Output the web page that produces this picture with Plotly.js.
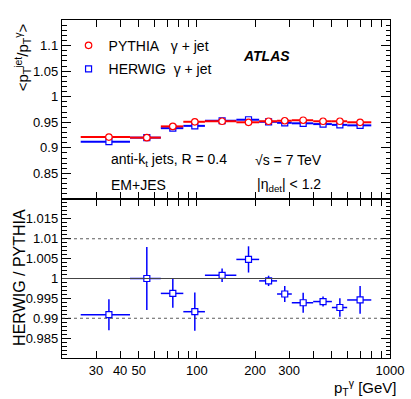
<!DOCTYPE html>
<html>
<head>
<meta charset="utf-8">
<script src="https://cdn.plot.ly/plotly-3.0.1.min.js"></script>
<style>
  html, body { margin: 0; padding: 0; background: #fff; }
  #chart { width: 411px; height: 399px; }
</style>
</head>
<body>
<div id="chart"></div>
<script>
// photon pT bins (GeV) and bin centres
var binLow = [25, 45, 65, 85, 110, 160, 210, 260, 310, 400, 500, 600];
var binHigh = [45, 65, 85, 110, 160, 210, 260, 310, 400, 500, 600, 800];
var ptCenter = [35, 55, 75, 97.5, 135, 185, 235, 285, 355, 450, 550, 700];

// <pT jet / pT gamma> per generator
var pythia = [0.921, 0.920, 0.942, 0.951, 0.952, 0.950, 0.952, 0.953, 0.954, 0.952, 0.952, 0.950];
var herwig = [0.912, 0.920, 0.9385, 0.943, 0.953, 0.955, 0.951, 0.949, 0.948, 0.9465, 0.945, 0.944];

// HERWIG / PYTHIA ratio and its error
var ratio = [0.9909, 1.0000, 0.99625, 0.99165, 1.0008, 1.0048, 0.9994, 0.9961, 0.9939, 0.9942, 0.9927, 0.9946];
var ratioErr = [0.0039, 0.0079, 0.0036, 0.0048, 0.0017, 0.0033, 0.0013, 0.0020, 0.0025, 0.00125, 0.0023, 0.0035];

var xTicks = [30, 40, 50, 100, 200, 300, 1000];
var xTickText = ['30', '40', '50', '100', '200', '300', '1000'];
var xMinorTicks = [20, 60, 70, 80, 90, 400, 500, 600, 700, 800, 900];
var topTicks = [0.85, 0.9, 0.95, 1, 1.05, 1.1];
var ratioTicks = [0.985, 0.99, 0.995, 1, 1.005, 1.01, 1.015];
var ratioTickText = ['0.985', '0.99', '0.995', '1', '1.005', '1.01', '1.015'];

var errPlus = ptCenter.map(function (c, i) { return binHigh[i] - c; });
var errMinus = ptCenter.map(function (c, i) { return c - binLow[i]; });

var RED = 'rgb(255,0,0)';
var BLUE = 'rgb(0,0,255)';
var FONT = 'Liberation Sans, Arial, sans-serif';

var herwigTrace = {
    x: ptCenter, y: herwig,
    xaxis: 'x2', yaxis: 'y2',
    mode: 'markers', type: 'scatter',
    name: 'HERWIG\u00a0\u00a0γ + jet',
    legend: 'legend2',
    marker: {symbol: 'square', size: 6, color: 'white', line: {color: BLUE, width: 1.2}},
    error_x: {type: 'data', symmetric: false, array: errPlus, arrayminus: errMinus,
              color: BLUE, thickness: 2, width: 0}
};

var pythiaTrace = {
    x: ptCenter, y: pythia,
    xaxis: 'x2', yaxis: 'y2',
    mode: 'markers', type: 'scatter',
    name: 'PYTHIA\u00a0\u00a0\u00a0γ + jet',
    legend: 'legend',
    marker: {symbol: 'circle', size: 6.5, color: 'white', line: {color: RED, width: 1.2}},
    error_x: {type: 'data', symmetric: false, array: errPlus, arrayminus: errMinus,
              color: RED, thickness: 2, width: 0}
};

var ratioTrace = {
    x: ptCenter, y: ratio,
    xaxis: 'x', yaxis: 'y',
    mode: 'markers', type: 'scatter',
    showlegend: false,
    marker: {symbol: 'square', size: 6, color: 'white', line: {color: BLUE, width: 1.2}},
    error_x: {type: 'data', symmetric: false, array: errPlus, arrayminus: errMinus,
              color: BLUE, thickness: 1.5, width: 0},
    error_y: {type: 'data', array: ratioErr, color: BLUE, thickness: 1.5, width: 0}
};

var data = [herwigTrace, pythiaTrace, ratioTrace];

var axisCommon = {
    showline: true, linecolor: 'black', linewidth: 1.2,
    mirror: 'allticks', ticks: 'inside', tickcolor: 'black',
    showgrid: false, zeroline: false,
    tickfont: {family: FONT, size: 13, color: 'black'}
};

var legendCommon = {
    bgcolor: 'rgba(0,0,0,0)', borderwidth: 0,
    font: {family: FONT, size: 14, color: 'black'},
    xanchor: 'left', yanchor: 'middle', x: 0.02, itemwidth: 30
};

var layout = {
    width: 411, height: 399,
    margin: {l: 62, r: 21, t: 20, b: 41},
    paper_bgcolor: 'white', plot_bgcolor: 'white',
    font: {family: FONT, size: 13, color: 'black'},
    xaxis: Object.assign({}, axisCommon, {
        type: 'log', range: [Math.log10(20), 3], anchor: 'y',
        tickmode: 'array', tickvals: xTicks, ticktext: xTickText, ticklen: 7,
        minor: {ticks: 'inside', tickmode: 'array', tickvals: xMinorTicks, ticklen: 7,
                tickcolor: 'black', showgrid: false}
    }),
    xaxis2: Object.assign({}, axisCommon, {
        type: 'log', range: [Math.log10(20), 3], anchor: 'y2', matches: 'x',
        tickmode: 'array', tickvals: xTicks, showticklabels: false, ticklen: 7,
        minor: {ticks: 'inside', tickmode: 'array', tickvals: xMinorTicks, ticklen: 7,
                tickcolor: 'black', showgrid: false}
    }),
    yaxis: Object.assign({}, axisCommon, {
        domain: [0, 0.4704], range: [0.98, 1.02], anchor: 'x',
        tickmode: 'array', tickvals: ratioTicks, ticktext: ratioTickText, ticklen: 9,
        minor: {ticks: 'inside', dtick: 0.001, ticklen: 4.5, tickcolor: 'black', showgrid: false}
    }),
    yaxis2: Object.assign({}, axisCommon, {
        domain: [0.4704, 1], range: [0.8, 1.15], anchor: 'x2',
        tickmode: 'array', tickvals: topTicks, ticklen: 9,
        minor: {ticks: 'inside', dtick: 0.01, ticklen: 4.5, tickcolor: 'black', showgrid: false}
    }),
    legend: Object.assign({}, legendCommon, {y: 0.924}),
    legend2: Object.assign({}, legendCommon, {y: 0.854}),
    shapes: [
        {type: 'line', xref: 'x domain', yref: 'y', x0: 0, x1: 1, y0: 1, y1: 1,
         line: {color: '#444', width: 1.2}},
        {type: 'line', xref: 'x domain', yref: 'y', x0: 0, x1: 1, y0: 1.01, y1: 1.01,
         line: {color: '#333', width: 0.8, dash: 'dot'}},
        {type: 'line', xref: 'x domain', yref: 'y', x0: 0, x1: 1, y0: 0.99, y1: 0.99,
         line: {color: '#333', width: 0.8, dash: 'dot'}}
    ],
    annotations: [
        {text: '<b><i>ATLAS</i></b>', xref: 'paper', yref: 'paper', x: 0.5448, y: 0.8935,
         xanchor: 'left', yanchor: 'middle', showarrow: false, font: {size: 14}},
        {text: 'anti-k<sub>t</sub> jets, R = 0.4', xref: 'paper', yref: 'paper', x: 0.1433, y: 0.5858,
         xanchor: 'left', yanchor: 'middle', showarrow: false, font: {size: 14}},
        {text: '√s = 7 TeV', xref: 'paper', yref: 'paper', x: 0.5814, y: 0.5858,
         xanchor: 'left', yanchor: 'middle', showarrow: false, font: {size: 14}},
        {text: 'EM+JES', xref: 'paper', yref: 'paper', x: 0.1433, y: 0.5118,
         xanchor: 'left', yanchor: 'middle', showarrow: false, font: {size: 14}},
        {text: '|η<sub>det</sub>| &lt; 1.2', xref: 'paper', yref: 'paper', x: 0.588, y: 0.5118,
         xanchor: 'left', yanchor: 'middle', showarrow: false, font: {size: 14}},
        {text: '&lt;p<sub>T</sub><sup>jet</sup>/p<sub>T</sub><sup>γ</sup>&gt;', xref: 'paper', yref: 'paper',
         x: -0.12, y: 0.995, xanchor: 'center', yanchor: 'top', textangle: -90,
         showarrow: false, font: {size: 15}},
        {text: 'HERWIG / PYTHIA', xref: 'paper', yref: 'paper',
         x: -0.128, y: 0.237, xanchor: 'center', yanchor: 'middle', textangle: -90,
         showarrow: false, font: {size: 16}},
        {text: 'p<sub>T</sub><sup>γ</sup> [GeV]', xref: 'paper', yref: 'paper',
         x: 1.027, y: -0.088, xanchor: 'right', yanchor: 'middle',
         showarrow: false, font: {size: 15}}
    ]
};

Plotly.newPlot('chart', data, layout, {displayModeBar: false, staticPlot: true});
</script>
</body>
</html>
